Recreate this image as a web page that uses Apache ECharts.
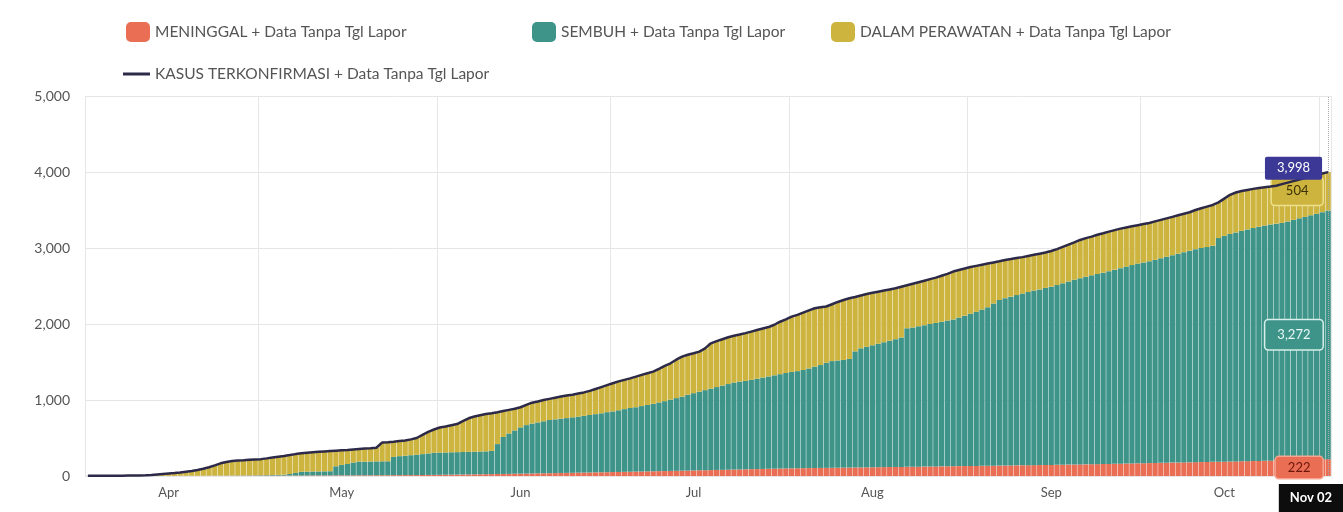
<!DOCTYPE html>
<html>
<head>
<meta charset="utf-8">
<title>Kasus Terkonfirmasi</title>
<script src="https://cdn.jsdelivr.net/npm/echarts@6/dist/echarts.min.js"></script>
<style>
  html, body { margin: 0; padding: 0; background: #fff; }
  #chart { width: 1343px; height: 512px; }
</style>
</head>
<body>
<div id="chart"></div>
<script>
// bulan dan jumlah hari yang tampil (1 Apr - 2 Nov)
var monthNames = ["Apr", "May", "Jun", "Jul", "Aug", "Sep", "Oct", "Nov"];
var monthDays = [30, 31, 30, 31, 31, 30, 31, 2];

// kumulatif harian
var meninggal = [
  0,0,0,0,0,0,0,0,0,0,1,1,1,1,1,1,2,2,2,2,2,3,3,3,3,3,4,4,4,4,
  5,5,5,5,5,6,6,6,6,7,7,7,7,8,8,8,8,9,9,9,10,10,10,11,11,12,12,12,13,14,15,
  16,17,18,19,20,21,22,23,24,25,26,27,28,30,31,32,33,35,36,37,38,40,41,42,44,45,46,48,49,50,
  52,53,55,56,58,59,61,62,64,65,67,68,70,71,73,75,76,78,80,81,83,85,86,88,90,91,93,95,96,98,100,
  101,102,103,104,105,106,107,108,109,110,111,112,113,114,115,116,117,118,119,120,121,122,123,124,125,126,127,128,129,130,131,
  132,133,134,135,136,137,138,139,140,141,142,143,144,145,146,147,148,150,151,152,153,155,156,158,159,161,162,164,165,167,
  168,170,171,173,174,176,177,179,180,182,183,185,186,188,189,191,192,194,195,197,198,200,201,203,204,206,207,209,210,212,214,
  218,222
];

var sembuh = [
  0,0,0,0,0,0,0,0,0,0,0,0,0,0,0,0,1,1,1,1,2,2,2,3,3,3,4,4,5,5,
  6,7,8,10,12,20,35,50,51,52,53,54,56,120,138,150,170,180,180,181,182,183,184,240,250,255,262,268,275,283,290,
  292,293,294,295,296,297,298,299,300,305,394,486,532,570,609,638,657,670,684,700,707,715,721,730,737,747,757,766,776,790,
  798,812,825,839,847,861,873,888,904,920,938,957,974,999,1017,1035,1054,1072,1090,1109,1127,1145,1156,1164,1175,1189,1202,1215,1229,1242,1255,
  1269,1278,1292,1311,1334,1354,1383,1404,1411,1417,1429,1528,1567,1586,1605,1624,1643,1662,1681,1702,1822,1833,1847,1861,1875,1889,1903,1917,1931,1955,1979,
  2003,2027,2056,2085,2134,2179,2202,2221,2240,2259,2278,2297,2311,2330,2345,2365,2387,2410,2431,2450,2469,2485,2502,2517,2536,2554,2573,2591,2610,2628,
  2642,2655,2674,2692,2711,2729,2748,2766,2785,2803,2817,2827,2844,2942,2971,2994,3013,3031,3050,3065,3082,3095,3109,3117,3126,3144,3163,3181,3200,3218,3236,
  3254,3272
];

var terkonfirmasi = [
  2,2,2,3,3,4,4,5,5,8,10,14,20,26,32,38,45,55,65,78,95,115,140,167,185,197,203,208,214,218,
  222,232,243,254,263,275,288,298,305,312,318,323,328,333,338,343,350,356,362,366,372,440,445,452,460,468,482,500,540,580,612,
  638,652,668,684,722,759,782,800,815,826,840,855,870,885,905,935,965,980,1000,1015,1030,1045,1058,1070,1085,1100,1120,1145,1170,1195,
  1220,1245,1265,1285,1307,1330,1352,1373,1410,1450,1483,1530,1570,1595,1615,1636,1680,1746,1775,1800,1825,1845,1862,1880,1900,1920,1940,1960,1990,2030,2060,
  2097,2120,2150,2180,2207,2220,2230,2260,2290,2315,2338,2355,2375,2395,2410,2425,2440,2455,2470,2490,2510,2530,2550,2570,2590,2610,2635,2660,2690,2711,2730,
  2750,2765,2780,2795,2810,2825,2843,2855,2868,2880,2895,2910,2925,2940,2960,2985,3015,3045,3075,3106,3130,3150,3175,3194,3215,3235,3255,3270,3285,3300,
  3315,3330,3350,3370,3390,3410,3430,3450,3470,3500,3523,3545,3566,3600,3650,3700,3730,3750,3764,3778,3790,3800,3808,3820,3840,3860,3880,3900,3920,3940,3960,
  3980,3998
];

var yTicks = [0, 1000, 2000, 3000, 4000, 5000];

var namaMeninggal = "MENINGGAL + Data Tanpa Tgl Lapor";
var namaSembuh = "SEMBUH + Data Tanpa Tgl Lapor";
var namaPerawatan = "DALAM PERAWATAN + Data Tanpa Tgl Lapor";
var namaKasus = "KASUS TERKONFIRMASI + Data Tanpa Tgl Lapor";

var tanggal = [];
monthNames.forEach(function (m, i) {
  for (var d = 1; d <= monthDays[i]; d++) {
    tanggal.push(m + " " + (d < 10 ? "0" + d : d));
  }
});

var perawatan = terkonfirmasi.map(function (v, i) {
  return v - sembuh[i] - meninggal[i];
});

var font = "Lato, 'Open Sans', sans-serif";
var fmt = function (p) { return Number(p.value).toLocaleString("en-US"); };

var lastLabel = function (arr, label) {
  return arr.map(function (v, i) {
    return i === arr.length - 1 ? { value: v, label: label } : v;
  });
};

var boxLabel = function (bg, border, color, pad) {
  return {
    show: true,
    position: "left",
    distance: 3,
    formatter: fmt,
    backgroundColor: bg,
    borderColor: border,
    borderWidth: 1.5,
    borderRadius: 3,
    padding: pad,
    color: color,
    fontFamily: font,
    fontSize: 13
  };
};

var legendBase = function (name, left, top, w, h, icon) {
  return {
    data: [name],
    left: left,
    top: top,
    icon: icon,
    itemWidth: w,
    itemHeight: h,
    selectedMode: false,
    textStyle: { color: "#555", fontSize: 15.5, fontFamily: font }
  };
};

var myChart = echarts.init(document.getElementById("chart"));

var option = {
  animation: false,
  color: ["#ea6e54", "#3e9489", "#cdb43f", "#2c2a48"],
  legend: [
    legendBase(namaMeninggal, 121, 17, 24, 20, "roundRect"),
    legendBase(namaSembuh, 527, 17, 24, 20, "roundRect"),
    legendBase(namaPerawatan, 826, 17, 24, 20, "roundRect"),
    legendBase(namaKasus, 118, 61, 27, 3, "rect")
  ],
  grid: { left: 85, right: 12, top: 96, bottom: 36, containLabel: false, outerBoundsMode: "none" },
  xAxis: {
    type: "category",
    data: tanggal,
    boundaryGap: true,
    axisLine: { show: false },
    axisTick: {
      show: false,
      interval: function (i, v) { return v.slice(4) === "01"; }
    },
    splitLine: {
      show: true,
      interval: function (i, v) { return v.slice(4) === "01"; },
      lineStyle: { color: "#e6e6e6", width: 1 }
    },
    axisLabel: {
      interval: function (i, v) { return v.slice(4) === "15"; },
      formatter: function (v) { return v.slice(0, 3); },
      color: "#555",
      fontSize: 13,
      fontFamily: font,
      margin: 10
    },
    axisPointer: {
      show: true,
      status: "show",
      value: tanggal.length - 1,
      type: "line",
      lineStyle: { color: "#aaa", type: "dotted", width: 1 },
      label: {
        show: true,
        backgroundColor: "#0d0d0d",
        color: "#fff",
        fontWeight: "bold",
        fontFamily: font,
        fontSize: 13,
        padding: [7, 11, 8, 11],
        borderRadius: 0,
        margin: 9
      }
    }
  },
  yAxis: {
    type: "value",
    min: yTicks[0],
    max: yTicks[yTicks.length - 1],
    interval: 1000,
    axisLine: { show: false },
    axisTick: { show: false },
    splitLine: { lineStyle: { color: "#e6e6e6", width: 1 } },
    axisLabel: {
      formatter: function (v) { return v.toLocaleString("en-US"); },
      color: "#555",
      fontSize: 14,
      fontFamily: font,
      margin: 15
    }
  },
  series: [
    {
      name: namaMeninggal,
      type: "bar",
      stack: "total",
      barCategoryGap: "8%",
      data: lastLabel(meninggal, boxLabel("#ea6e54", "#f6a590", "#6e150a", [4, 12]))
    },
    {
      name: namaSembuh,
      type: "bar",
      stack: "total",
      barCategoryGap: "8%",
      data: lastLabel(sembuh, boxLabel("#3e9489", "#d6efea", "#e6f8f5", [8, 12]))
    },
    {
      name: namaPerawatan,
      type: "bar",
      stack: "total",
      barCategoryGap: "8%",
      data: lastLabel(perawatan, boxLabel("#cdb43f", "#efe08c", "#3a3000", [7, 14]))
    },
    {
      name: namaKasus,
      type: "line",
      z: 5,
      symbol: "circle",
      symbolSize: 0.1,
      showAllSymbol: true,
      lineStyle: { width: 2.5, color: "#2c2a48" },
      itemStyle: { color: "#2c2a48" },
      data: lastLabel(terkonfirmasi, {
        show: true,
        position: "left",
        distance: 6,
        formatter: fmt,
        backgroundColor: "#3c3896",
        color: "#fff",
        padding: [5, 12],
        borderRadius: 2,
        fontFamily: font,
        fontSize: 13,
        offset: [0, -4]
      })
    }
  ]
};

myChart.setOption(option);
</script>
</body>
</html>
